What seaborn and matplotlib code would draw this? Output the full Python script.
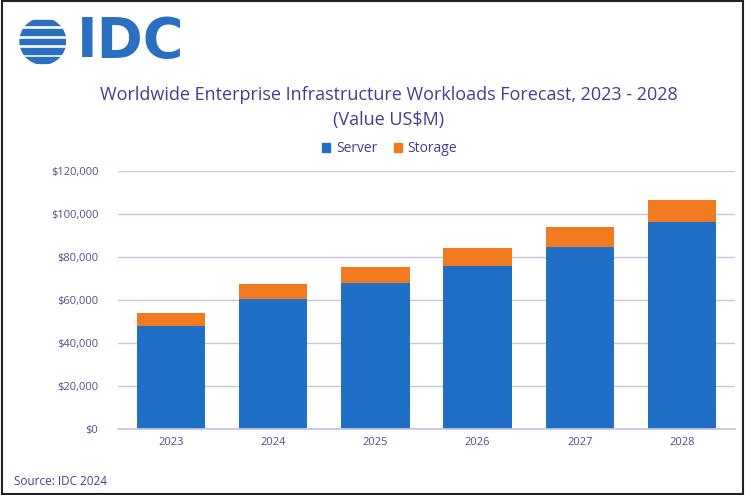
import matplotlib
matplotlib.use("Agg")
import matplotlib.pyplot as plt
import seaborn as sns
import pandas as pd
import numpy as np
from matplotlib.patches import Circle, Rectangle

years = ["2023", "2024", "2025", "2026", "2027", "2028"]
server = [47800, 60500, 68000, 76000, 84500, 96300]
storage = [6000, 6900, 7300, 8000, 9300, 10200]
yticks = [0, 20000, 40000, 60000, 80000, 100000, 120000]
ytick_labels = ["$0", "$20,000", "$40,000", "$60,000", "$80,000", "$100,000", "$120,000"]

BLUE = "#1f6fc6"
ORANGE = "#f17a21"
PURPLE = "#4a3a94"
TICK = "#5b4a8c"

sns.set_theme(style="white")
plt.rcParams['font.family'] = ['Open Sans', 'DejaVu Sans']

fig = plt.figure(figsize=(7.45, 4.95), dpi=100)
ax = fig.add_axes([0.158, 0.1333, 0.829, 0.5212])

df = pd.DataFrame({"year": years, "server": server, "storage": storage})
df["total"] = df["server"] + df["storage"]

sns.barplot(data=df, x="year", y="total", color=ORANGE, width=0.67, ax=ax,
            saturation=1, linewidth=0, edgecolor="none")
sns.barplot(data=df, x="year", y="server", color=BLUE, width=0.67, ax=ax,
            saturation=1, linewidth=0, edgecolor="none")

ax.set_ylim(0, 120000)
ax.set_xlim(-0.52, 5.52)
ax.set_yticks(yticks)
ax.set_yticklabels(ytick_labels, color=TICK, fontsize=8)
ax.tick_params(axis='x', colors=TICK, labelsize=8, length=0, pad=6)
ax.tick_params(axis='y', length=0, pad=14)
ax.set_xlabel("")
ax.set_ylabel("")
ax.yaxis.grid(True, color="#c9c3df", linewidth=1)
ax.set_axisbelow(True)
for s in ["top", "right", "left"]:
    ax.spines[s].set_visible(False)
ax.spines["bottom"].set_color("#c9c3df")
if ax.get_legend():
    ax.get_legend().remove()

handles = [Rectangle((0, 0), 1, 1, color=BLUE), Rectangle((0, 0), 1, 1, color=ORANGE)]
fig.legend(handles, ["Server", "Storage"], loc="center", bbox_to_anchor=(0.523, 0.700),
           ncol=2, frameon=False, fontsize=10, handlelength=0.6, handleheight=0.6,
           handletextpad=0.4, columnspacing=1.2, labelcolor=PURPLE)

fig.text(0.522, 0.808, "Worldwide Enterprise Infrastructure Workloads Forecast, 2023 - 2028",
         ha="center", va="center", fontsize=13.0, color=PURPLE)
fig.text(0.522, 0.758, "(Value US$M)", ha="center", va="center", fontsize=13.0, color=PURPLE)
fig.text(0.019, 0.028, "Source: IDC 2024", ha="left", va="center", fontsize=8.5, color=PURPLE)

# IDC logo
fig.text(0.103, 0.915, "IDC", ha="left", va="center", fontsize=40, color="#2b6fc0",
         fontweight="bold", family=["DejaVu Sans"])
lax = fig.add_axes([0.022, 0.869, 0.071, 0.095])
lax.set_xlim(-1, 1)
lax.set_ylim(-1, 1)
lax.set_aspect("equal")
lax.axis("off")
circ = Circle((0, 0), 1, transform=lax.transData)
for yy in np.linspace(-0.8, 0.8, 5):
    r = lax.add_patch(Rectangle((-1.2, yy - 0.12), 2.4, 0.24, color="#2b6fc0"))
    r.set_clip_path(circ)

# border
fig.patches.append(Rectangle((0.003, 0.003), 0.994, 0.994, transform=fig.transFigure,
                             fill=False, edgecolor="#222222", linewidth=1.5))

fig.savefig("out.png", dpi=100, facecolor="white")
